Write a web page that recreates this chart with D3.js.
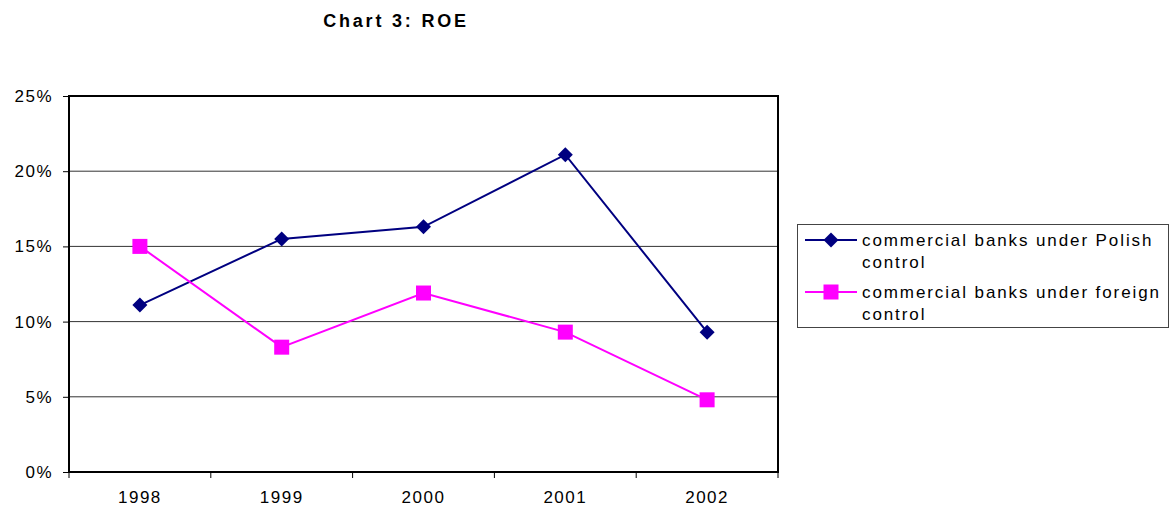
<!DOCTYPE html>
<html>
<head>
<meta charset="utf-8">
<script src="https://cdn.jsdelivr.net/npm/d3@7"></script>
<style>
  body { margin: 0; background: #fff; }
  text { font-family: "Liberation Sans", Arial, sans-serif; fill: #000; }
</style>
</head>
<body>
<script>
const years = ["1998", "1999", "2000", "2001", "2002"];
const polish = [11.1, 15.5, 16.3, 21.1, 9.3];
const foreign = [15.0, 8.3, 11.9, 9.3, 4.8];
const yTicks = [0, 5, 10, 15, 20, 25];
const seriesNames = [
  ["commercial banks under Polish", "control"],
  ["commercial banks under foreign", "control"]
];

const width = 1170, height = 506;
const plot = { left: 69, top: 96, right: 778, bottom: 472 };

const svg = d3.select("body").append("svg")
  .attr("width", width).attr("height", height);

svg.append("text")
  .attr("x", 396).attr("y", 27)
  .attr("text-anchor", "middle")
  .style("font-weight", "bold").style("font-size", "18px")
  .style("letter-spacing", "2.8px")
  .text("Chart 3: ROE");

const x = d3.scaleBand().domain(years).range([plot.left, plot.right]);
const y = d3.scaleLinear().domain([0, 25]).range([plot.bottom, plot.top]);

// gridlines
svg.append("g")
  .selectAll("line")
  .data(yTicks.filter(d => d > 0 && d < 25))
  .join("line")
  .attr("x1", plot.left).attr("x2", plot.right)
  .attr("y1", d => y(d)).attr("y2", d => y(d))
  .attr("stroke", "#333").attr("stroke-width", 1);

// y axis
const yAxis = svg.append("g")
  .attr("transform", `translate(${plot.left},0)`)
  .call(d3.axisLeft(y).tickValues(yTicks).tickSize(6).tickPadding(10).tickFormat(d => d + "%"));
yAxis.select(".domain").remove();
yAxis.selectAll("line").attr("stroke", "#000");
yAxis.selectAll("text").style("font-size", "17px").style("letter-spacing", "1.5px")
  .style("font-family", "Liberation Sans, Arial, sans-serif");

// x axis ticks at category boundaries
const xAxis = svg.append("g")
  .attr("transform", `translate(0,${plot.bottom})`);
xAxis.selectAll("line")
  .data(years.concat(["end"]))
  .join("line")
  .attr("x1", (d, i) => i < years.length ? x(d) : x(years[years.length - 1]) + x.bandwidth())
  .attr("x2", (d, i) => i < years.length ? x(d) : x(years[years.length - 1]) + x.bandwidth())
  .attr("y1", 0).attr("y2", 6)
  .attr("stroke", "#000");
xAxis.selectAll("text")
  .data(years)
  .join("text")
  .attr("x", d => x(d) + x.bandwidth() / 2)
  .attr("y", 31)
  .attr("text-anchor", "middle")
  .style("font-size", "17px").style("letter-spacing", "1.5px")
  .text(d => d);

// plot frame
svg.append("rect")
  .attr("x", plot.left).attr("y", plot.top)
  .attr("width", plot.right - plot.left).attr("height", plot.bottom - plot.top)
  .attr("fill", "none").attr("stroke", "#000").attr("stroke-width", 2);

const cx = d => x(d) + x.bandwidth() / 2;
const line = d3.line().x(d => cx(d[0])).y(d => y(d[1]));

const series = [
  { values: polish, color: "#000080", shape: "diamond" },
  { values: foreign, color: "#ff00ff", shape: "square" }
];

const drawMarker = (g, shape, color) => {
  if (shape === "diamond") {
    g.append("path").attr("d", "M0,-7.5L7.5,0L0,7.5L-7.5,0Z").attr("fill", color);
  } else {
    g.append("rect").attr("x", -7.5).attr("y", -7.5).attr("width", 15).attr("height", 15).attr("fill", color);
  }
};

series.forEach(s => {
  const pts = years.map((yr, i) => [yr, s.values[i]]);
  svg.append("path").datum(pts)
    .attr("d", line).attr("fill", "none")
    .attr("stroke", s.color).attr("stroke-width", 2);
  pts.forEach(p => {
    const g = svg.append("g").attr("transform", `translate(${cx(p[0])},${y(p[1])})`);
    drawMarker(g, s.shape, s.color);
  });
});

// legend
const legend = svg.append("g");
legend.append("rect")
  .attr("x", 797.5).attr("y", 224.5).attr("width", 371).attr("height", 103)
  .attr("fill", "#fff").attr("stroke", "#444").attr("stroke-width", 1);

series.forEach((s, i) => {
  const ly = 240 + i * 52;
  legend.append("line")
    .attr("x1", 805).attr("x2", 857).attr("y1", ly).attr("y2", ly)
    .attr("stroke", s.color).attr("stroke-width", 2);
  const g = legend.append("g").attr("transform", `translate(831,${ly})`);
  drawMarker(g, s.shape, s.color);
  seriesNames[i].forEach((t, j) => {
    legend.append("text")
      .attr("x", 862).attr("y", ly + 6 + j * 22)
      .style("font-size", "17px").style("letter-spacing", "1.9px")
      .text(t);
  });
});
</script>
</body>
</html>
